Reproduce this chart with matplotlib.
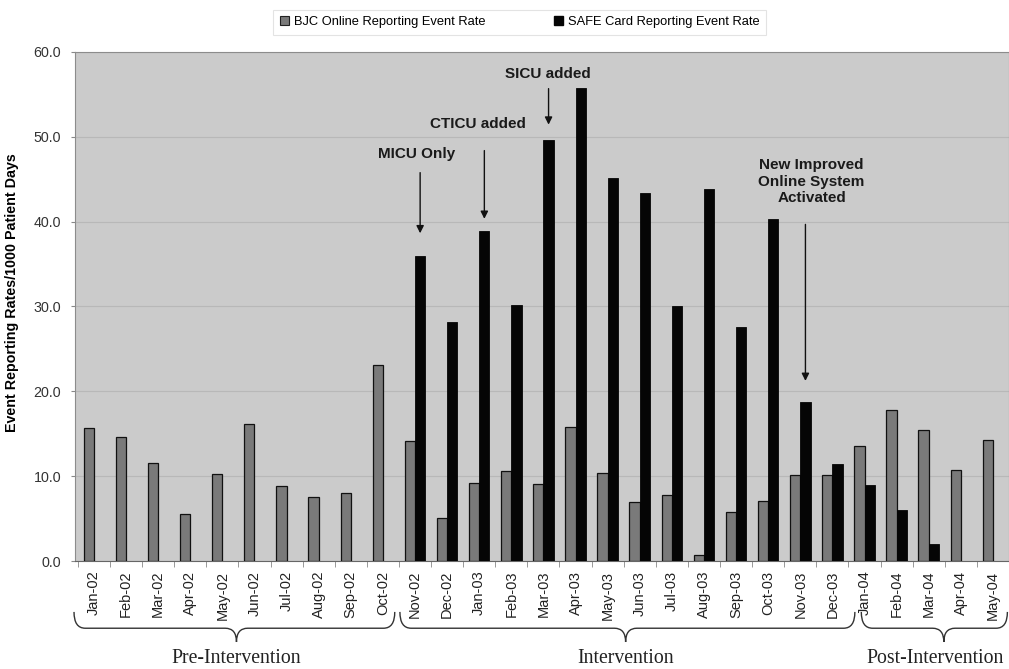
#!/usr/bin/env python3
from __future__ import annotations

import matplotlib

matplotlib.use("Agg")
import matplotlib.pyplot as plt
import numpy as np
from matplotlib.patches import PathPatch, Patch
from matplotlib.path import Path
from matplotlib.transforms import blended_transform_factory


MONTHS = [
    "Jan-02", "Feb-02", "Mar-02", "Apr-02", "May-02", "Jun-02", "Jul-02",
    "Aug-02", "Sep-02", "Oct-02", "Nov-02", "Dec-02", "Jan-03", "Feb-03",
    "Mar-03", "Apr-03", "May-03", "Jun-03", "Jul-03", "Aug-03", "Sep-03",
    "Oct-03", "Nov-03", "Dec-03", "Jan-04", "Feb-04", "Mar-04", "Apr-04",
    "May-04",
]
BJC_RATE = [
    15.7, 14.6, 11.6, 5.5, 10.3, 16.2, 8.8, 7.5, 8.0, 23.1,
    14.2, 5.1, 9.2, 10.6, 9.1, 15.8, 10.4, 7.0, 7.8, 0.7,
    5.8, 7.1, 10.1, 10.1, 13.6, 17.8, 15.4, 10.7, 14.3,
]
SAFE_RATE = [
    0, 0, 0, 0, 0, 0, 0, 0, 0, 0,
    36.0, 28.2, 38.9, 30.2, 49.6, 55.7, 45.1, 43.4, 30.0, 43.9,
    27.6, 40.3, 18.8, 11.4, 9.0, 6.0, 2.0, 0, 0,
]
SERIES_NAMES = ["BJC Online Reporting Event Rate", "SAFE Card Reporting Event Rate"]

# (label, month index, text x shift, text centre, arrow start, arrow end)
EVENTS = [
    ("MICU Only", 10, -0.1, 48.0, 46.1, 38.3),
    ("CTICU added", 12, -0.2, 51.5, 48.7, 40.0),
    ("SICU added", 14, -0.03, 57.4, 56.0, 51.1),
    ("New Improved\nOnline System\nActivated", 22, 0.19, 44.7, 40.0, 20.9),
]
# (label, brace start, brace end, tip, label x) in month positions
PHASES = [
    ("Pre-Intervention", -0.62, 9.37, 4.44, 4.44),
    ("Intervention", 9.53, 23.7, 16.56, 16.56),
    ("Post-Intervention", 23.9, 28.45, 26.47, 26.2),
]

SANS = ["Liberation Sans", "DejaVu Sans"]
SERIF = ["Liberation Serif", "DejaVu Serif"]


def draw_brace(ax, x0: float, x1: float, xm: float, label: str, x_label: float) -> None:
    trans = blended_transform_factory(ax.transData, ax.transAxes)
    y_top, y_mid, y_tip = -0.100, -0.132, -0.159
    r = 0.35
    verts = [
        (x0, y_top), (x0, y_mid), (x0 + r, y_mid),
        (xm - r, y_mid), (xm, y_mid), (xm, y_tip),
        (xm, y_mid), (xm + r, y_mid),
        (x1 - r, y_mid), (x1, y_mid), (x1, y_top),
    ]
    codes = [
        Path.MOVETO, Path.CURVE3, Path.CURVE3,
        Path.LINETO, Path.CURVE3, Path.CURVE3,
        Path.CURVE3, Path.CURVE3,
        Path.LINETO, Path.CURVE3, Path.CURVE3,
    ]
    ax.add_patch(PathPatch(Path(verts, codes), transform=trans, fill=False,
                           edgecolor="#333333", linewidth=1.0, clip_on=False))
    ax.text(x_label, -0.192, label, transform=trans, ha="center", va="center",
            fontsize=14.2, family=SERIF, color="#222222", clip_on=False)


def main() -> int:
    plt.rcParams["font.family"] = SANS
    fig = plt.figure(figsize=(10.09, 6.69), dpi=100)
    ax = fig.add_axes([0.0743, 0.1614, 0.9257, 0.761])

    x = np.arange(len(MONTHS))
    width = 0.32
    ax.bar(x - 0.16, BJC_RATE, width, color="#7a7a7a", edgecolor="#111111",
           linewidth=0.9, zorder=3)
    ax.bar(x + 0.16, SAFE_RATE, width, color="#050505", edgecolor="#050505",
           linewidth=0.6, zorder=3)

    ax.set_facecolor("#cbcbcb")
    ax.set_xlim(-0.59, 28.5)
    ax.set_ylim(0, 60)
    ax.set_yticks(np.arange(0, 61, 10))
    ax.set_yticklabels([f"{v:.1f}" for v in np.arange(0, 61, 10)], fontsize=10.3, color="#333333")
    ax.yaxis.grid(True, color="#b8b8b8", linewidth=0.8, zorder=0)
    ax.set_ylabel("Event Reporting Rates/1000 Patient Days", fontsize=10.3,
                  fontweight="bold")
    ax.yaxis.set_label_coords(-0.06, 0.527)

    ax.set_xticks(x)
    ax.set_xticklabels(MONTHS, rotation=90, fontsize=10.5, color="#222222")
    ax.set_xticks(np.arange(len(MONTHS) + 1) - 0.5, minor=True)
    ax.tick_params(axis="x", which="major", length=0, pad=7)
    ax.tick_params(axis="x", which="minor", length=4, color="#888888")
    ax.tick_params(axis="y", length=3, color="#888888", pad=7)
    for side in ("top", "left", "right"):
        ax.spines[side].set_color("#8c8c8c")
    ax.spines["bottom"].set_color("#666666")

    for label, idx, dx, y_text, y_start, y_end in EVENTS:
        ax.annotate("", xy=(idx + 0.16, y_end), xytext=(idx + 0.16, y_start),
                    arrowprops=dict(arrowstyle="-|>", color="#111111", lw=1.0,
                                    mutation_scale=11), zorder=4)
        ax.text(idx + 0.16 + dx, y_text, label, ha="center", va="center",
                fontsize=11, fontweight="bold", color="#1a1a1a",
                linespacing=1.25, zorder=4)

    for label, x0, x1, tip, x_label in PHASES:
        draw_brace(ax, x0, x1, tip, label, x_label)

    handles = [
        Patch(facecolor="#7a7a7a", edgecolor="#222222", linewidth=0.8),
        Patch(facecolor="#050505", edgecolor="#050505"),
    ]
    leg = fig.legend(handles, SERIES_NAMES, loc="upper center", ncol=2,
                     bbox_to_anchor=(0.515, 0.995), fontsize=9.3, frameon=True,
                     handlelength=0.7, handleheight=0.7, handletextpad=0.4,
                     columnspacing=5.3, fancybox=False, borderpad=0.5)
    leg.get_frame().set_edgecolor("#dddddd")
    leg.get_frame().set_linewidth(0.8)

    fig.savefig("out.png", dpi=100)
    plt.close(fig)
    return 0


if __name__ == "__main__":
    raise SystemExit(main())
